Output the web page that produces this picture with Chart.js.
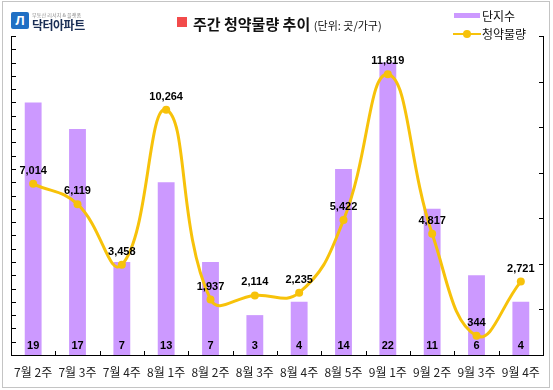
<!DOCTYPE html>
<html>
<head>
<meta charset="utf-8">
<script src="https://cdn.jsdelivr.net/npm/chart.js@4.4.1/dist/chart.umd.min.js"></script>
<style>
  body { margin: 0; background: #fff; font-family: "Noto Sans CJK KR", sans-serif; }
  #wrap { position: relative; width: 553px; height: 390px; overflow: hidden; }
  #frame { position: absolute; left: 2px; top: 1px; width: 546px; height: 385px; border: 1px solid #c4c4c4; }
  canvas { position: absolute; left: 0; top: 0; }
  .logo-box { position: absolute; left: 11px; top: 12px; width: 18px; height: 17px; background: #1f6fc4; border-radius: 2px; color: #fff; font: bold 13px "Liberation Sans", sans-serif; line-height: 17px; text-align: center; }
  .logo-sub { position: absolute; left: 32px; top: 11px; font-size: 6px; color: #8a8a8a; white-space: nowrap; transform: scale(0.85); transform-origin: left top; }
  .logo-name { position: absolute; left: 32px; top: 16px; font-size: 12px; font-weight: bold; color: #1a2e55; letter-spacing: -0.5px; white-space: nowrap; }
  .title-mark { position: absolute; left: 177px; top: 17px; width: 10px; height: 10px; background: #f24b4b; }
  .title { position: absolute; left: 193px; top: 11px; white-space: nowrap; color: #111; }
  .title b { font-size: 15px; }
  .title span { font-size: 11px; }
  .lg { position: absolute; left: 482px; font-size: 12px; color: #111; white-space: nowrap; }
  .lg-bar { position: absolute; left: 454px; top: 13px; width: 26px; height: 5px; background: #cc99ff; }
  .lg-line { position: absolute; left: 453px; top: 33px; width: 28px; height: 2px; background: #f7c20a; }
  .lg-dot { position: absolute; left: 463px; top: 30px; width: 8px; height: 8px; border-radius: 50%; background: #f7c20a; }
</style>
</head>
<body>
<div id="wrap">
  <canvas id="chart" width="553" height="390"></canvas>
  <div id="frame"></div>
  <div class="logo-box">Л</div>
  <div class="logo-sub">부동산 리서치 &amp; 플랫폼</div>
  <div class="logo-name">닥터아파트</div>
  <div class="title-mark"></div>
  <div class="title"><b>주간 청약물량 추이</b> <span>(단위: 곳/가구)</span></div>
  <div class="lg-bar"></div>
  <div class="lg" style="top:7px">단지수</div>
  <div class="lg-line"></div>
  <div class="lg-dot"></div>
  <div class="lg" style="top:25px">청약물량</div>
</div>
<script>
// weekly categories
const weeks = ['7월 2주', '7월 3주', '7월 4주', '8월 1주', '8월 2주', '8월 3주',
               '8월 4주', '8월 5주', '9월 1주', '9월 2주', '9월 3주', '9월 4주'];
// number of complexes (단지수)
const complexes = [19, 17, 7, 13, 7, 3, 4, 14, 22, 11, 6, 4];
// subscription volume in households (청약물량)
const volume = [7014, 6119, 3458, 10264, 1937, 2114, 2235, 5422, 11819, 4817, 344, 2721];

const barColor = '#cc99ff';
const lineColor = '#f7c20a';

// axis lines, inward tick marks and value labels
const decorations = {
    id: 'decorations',
    afterDatasetsDraw(chart) {
        const ctx = chart.ctx;
        const a = chart.chartArea;
        const x = chart.scales.x, y = chart.scales.y, y1 = chart.scales.y1;
        ctx.save();
        ctx.strokeStyle = '#000';
        ctx.lineWidth = 1;
        ctx.beginPath();
        ctx.moveTo(a.left + 0.5, a.top);
        ctx.lineTo(a.left + 0.5, a.bottom + 0.5);
        ctx.lineTo(a.right + 0.5, a.bottom + 0.5);
        ctx.lineTo(a.right + 0.5, a.top);
        y.ticks.forEach(t => {
            const py = Math.round(y.getPixelForValue(t.value)) + 0.5;
            ctx.moveTo(a.left, py);
            ctx.lineTo(a.left + 5, py);
        });
        y1.ticks.forEach(t => {
            const py = Math.round(y1.getPixelForValue(t.value)) + 0.5;
            ctx.moveTo(a.right - 4, py);
            ctx.lineTo(a.right + 1, py);
        });
        for (let i = 0; i < weeks.length - 1; i++) {
            const px = Math.round((x.getPixelForValue(i) + x.getPixelForValue(i + 1)) / 2) + 0.5;
            ctx.moveTo(px, a.bottom);
            ctx.lineTo(px, a.bottom - 4);
        }
        ctx.stroke();

        ctx.fillStyle = '#000';
        ctx.textAlign = 'center';
        ctx.textBaseline = 'middle';
        ctx.font = 'bold 11px "Liberation Sans", Arial, sans-serif';
        chart.getDatasetMeta(1).data.forEach((bar, i) => {
            ctx.fillText(complexes[i], bar.x, a.bottom - 9);
        });
        chart.getDatasetMeta(0).data.forEach((pt, i) => {
            ctx.fillText(volume[i].toLocaleString('en-US'), pt.x, pt.y - 13);
        });
        ctx.restore();
    }
};

new Chart(document.getElementById('chart'), {
    data: {
        labels: weeks,
        datasets: [{
            type: 'line',
            label: '청약물량',
            data: volume,
            yAxisID: 'y1',
            order: 0,
            borderColor: lineColor,
            backgroundColor: lineColor,
            borderWidth: 3,
            tension: 0.45,
            pointRadius: 4,
            pointBackgroundColor: lineColor,
            pointBorderWidth: 0
        }, {
            type: 'bar',
            label: '단지수',
            data: complexes,
            yAxisID: 'y',
            order: 1,
            backgroundColor: barColor,
            barPercentage: 0.76,
            categoryPercentage: 0.5
        }]
    },
    options: {
        responsive: false,
        animation: false,
        layout: { padding: { left: 11, right: 10, top: 36, bottom: 0 } },
        plugins: { legend: { display: false }, tooltip: { enabled: false } },
        scales: {
            x: {
                grid: { display: false, drawTicks: false },
                border: { display: false },
                ticks: { color: '#222', font: { family: '"Noto Sans CJK KR", sans-serif', size: 12 }, padding: 10, maxRotation: 0, autoSkip: false },
                afterFit: s => { s.height = 35; }
            },
            y: {
                position: 'left',
                min: 0, max: 24,
                ticks: { display: false, stepSize: 1, maxTicksLimit: 40 },
                grid: { display: false, drawTicks: false },
                border: { display: false },
                afterFit: s => { s.width = 0; }
            },
            y1: {
                position: 'right',
                min: -500, max: 13500,
                ticks: { display: false, stepSize: 2000, maxTicksLimit: 40 },
                grid: { display: false, drawTicks: false },
                border: { display: false },
                afterFit: s => { s.width = 0; }
            }
        }
    },
    plugins: [decorations]
});
</script>
</body>
</html>
